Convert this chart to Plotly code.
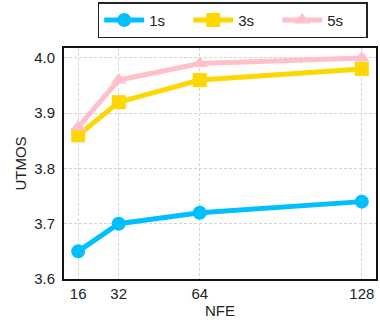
import plotly.graph_objects as go

nfe = [16, 32, 64, 128]
utmos_1s = [3.65, 3.70, 3.72, 3.74]
utmos_3s = [3.86, 3.92, 3.96, 3.98]
utmos_5s = [3.875, 3.96, 3.99, 4.00]

series = [
    ("1s", utmos_1s, "#00BFFF", "circle"),
    ("3s", utmos_3s, "#FFD700", "square"),
    ("5s", utmos_5s, "#FFC0CB", "triangle-up"),
]

fig = go.Figure()
for name, vals, color, symbol in series:
    fig.add_trace(go.Scatter(
        x=nfe, y=vals, name=name, mode="lines+markers",
        line=dict(color=color, width=5),
        marker=dict(color=color, symbol=symbol, size=14),
    ))

font = "Liberation Sans, Arial, sans-serif"
grid = dict(showgrid=True, gridcolor="#d4d4d4", griddash="3px,2px", gridwidth=0.8)
frame = dict(showline=True, mirror=True, linecolor="#111", linewidth=2, zeroline=False)

fig.update_layout(
    width=380, height=324,
    margin=dict(l=64, r=2, t=43, b=45),
    paper_bgcolor="white", plot_bgcolor="white",
    font=dict(family=font, size=15, color="#222"),
    showlegend=True,
    legend=dict(
        orientation="h", x=0.108, xanchor="left", y=1.042, yanchor="bottom",
        bordercolor="#222", borderwidth=1.5, bgcolor="white",
        font=dict(size=15), entrywidth=34, itemwidth=40,
    ),
    xaxis=dict(
        range=[10.4, 133.6], tickvals=nfe, ticktext=[str(v) for v in nfe],
        ticks="", **grid, **frame,
        title=dict(text="NFE", font=dict(size=15), standoff=4),
    ),
    yaxis=dict(
        range=[3.6, 4.018], tickvals=[3.6, 3.7, 3.8, 3.9, 4.0], tickformat=".1f",
        ticks="outside", ticklen=4, tickcolor="white", **grid, **frame,
        title=dict(text="UTMOS", font=dict(size=15), standoff=4),
    ),
)

fig.write_html("out.html")
